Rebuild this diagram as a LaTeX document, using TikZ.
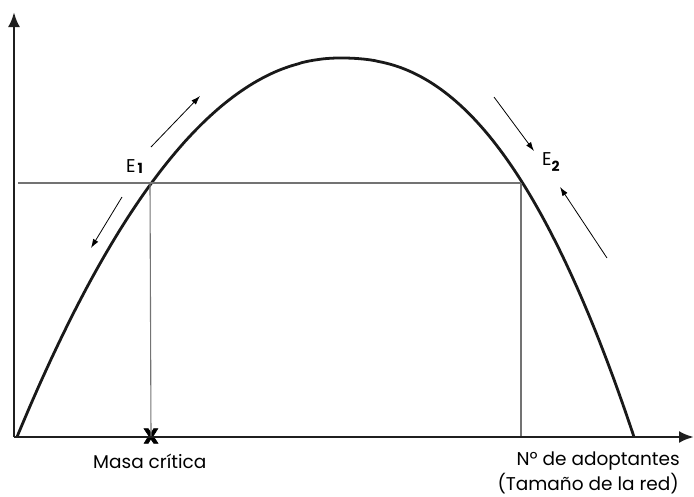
\documentclass[tikz,border=0pt]{standalone}
\usepackage{fontspec}
\setmainfont{Poppins}
\usetikzlibrary{arrows.meta}
\begin{document}
\begin{tikzpicture}[x=1pt,y=-1pt,
  axis/.style={line width=2.8pt,color=black!88,-{Latex[length=15pt,width=12pt]}},
  curve/.style={line width=2.8pt,color=black!90,line join=round},
  guide/.style={line width=1.1pt,color=black!55},
  motion/.style={line width=0.8pt,color=black,-{Latex[length=9pt,width=6pt]}},
  lbl/.style={inner sep=0pt,font=\fontsize{18.5}{22}\selectfont}
]
\useasboundingbox (0,0) rectangle (694,496);
\coordinate (O) at (14,437);
\coordinate (Ytip) at (14,12);
\coordinate (Xtip) at (694,437);
\coordinate (top) at (340,58);
\coordinate (L) at (17,437);
\coordinate (R) at (634,437);
\coordinate (E1) at (150,183);
\coordinate (E2) at (521,183);
\coordinate (h0) at (18,183);
\coordinate (E2foot) at (521,437);
% curve
\draw[curve] (L) -- plot[variable=\t,domain=0.995:0.005,samples=80] ({340-323*\t},{58+379*pow(\t,2.06)}) -- (top)
  -- plot[variable=\t,domain=0.005:0.995,samples=80] ({340+294*\t},{58+379*pow(\t,2.33)}) -- (R);
% guides
\draw[guide] (h0) -- (E2);
\node[inner sep=0pt,font=\bfseries\addfontfeature{FakeBold=3}\fontsize{21}{21}\selectfont] (mc) at (151,436) {X};
\draw[guide] (E1) -- (mc.center);
\draw[guide] (E2) -- (E2foot);
% axes
\draw[axis] (O) -- (Ytip);
\draw[axis] (O) -- (Xtip);
% motion arrows
\coordinate (a1s) at (151,147); \coordinate (a1e) at (200,96);
\coordinate (a2s) at (122,197); \coordinate (a2e) at (91,248);
\coordinate (a3s) at (494,97); \coordinate (a3e) at (534,151);
\coordinate (a4s) at (607,258); \coordinate (a4e) at (560,187);
\draw[motion] (a1s) -- (a1e);
\draw[motion] (a2s) -- (a2e);
\draw[motion] (a3s) -- (a3e);
\draw[motion] (a4s) -- (a4e);
% labels
\node[lbl,anchor=base west] (e1) at (126,172) {E\hspace{2pt}\raisebox{-0.15ex}{\fontsize{14}{14}\selectfont\bfseries 1}};
\node[lbl,anchor=base west] (e2) at (542,165) {E\raisebox{-0.6ex}{\fontsize{14}{14}\selectfont\bfseries 2}};
\node[lbl,anchor=base west] (mcl) at (93,468) {Masa crítica};
\node[lbl,anchor=base east,align=right] (nad) at (680,465) {Nº de adoptantes};
\node[lbl,anchor=base east,align=right] (tam) at (679,490) {(Tamaño de la red)};
\end{tikzpicture}
\end{document}
